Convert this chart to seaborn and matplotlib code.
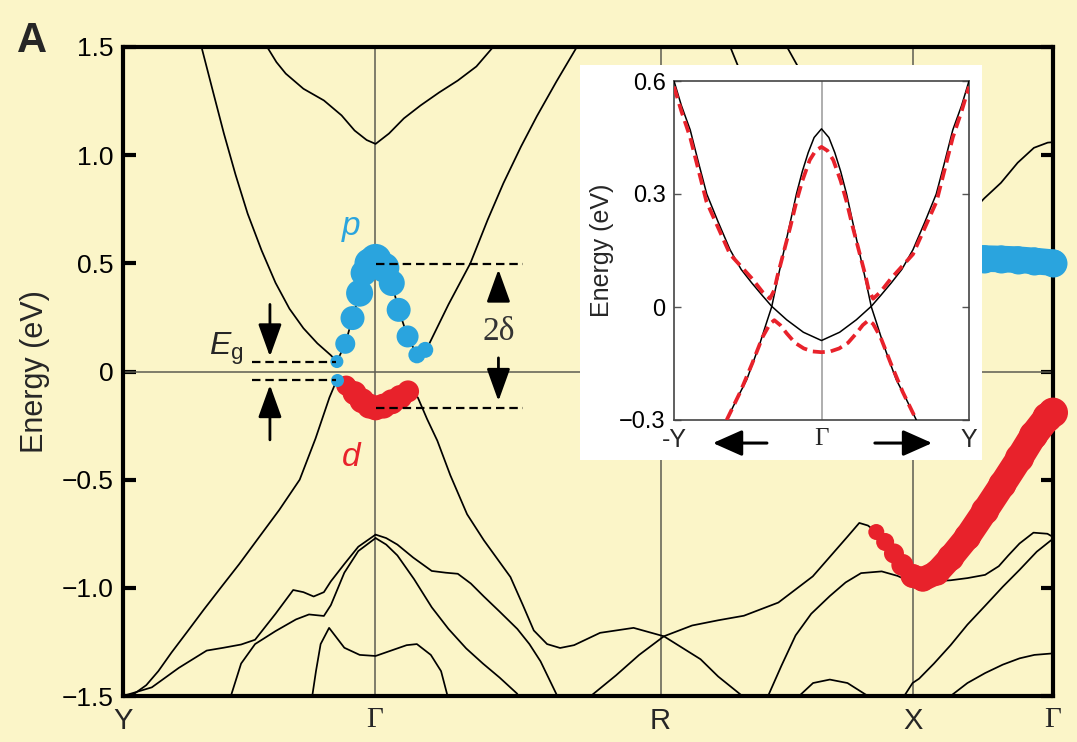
import numpy as np
import pandas as pd
import matplotlib
matplotlib.use("Agg")
import matplotlib.pyplot as plt
import seaborn as sns

# ---------------- data ----------------
# high-symmetry points along the k-path (fraction of path length)
k_nodes = [0.0, 0.271, 0.578, 0.850, 1.0]
k_labels = ["Y", "Γ", "R", "X", "Γ"]
y_ticks = [1.5, 1.0, 0.5, 0.0, -0.5, -1.0, -1.5]
y_ticklabels = ["1.5", "1.0", "0.5", "0", "−0.5", "−1.0", "−1.5"]

# lowest conduction band: left arm, p-character part, right arm
cb_left_k = [0.0844, 0.097, 0.1085, 0.121, 0.134, 0.149, 0.164, 0.179, 0.194, 0.209, 0.2235, 0.230]
cb_left_e = [1.50, 1.29, 1.10, 0.91, 0.73, 0.56, 0.41, 0.29, 0.20, 0.13, 0.075, 0.046]
p_k = [0.230, 0.239, 0.2468, 0.2544, 0.2587, 0.265, 0.2716, 0.281, 0.289, 0.2964, 0.306, 0.316, 0.325]
p_e = [0.046, 0.128, 0.247, 0.362, 0.455, 0.50, 0.516, 0.48, 0.409, 0.285, 0.162, 0.077, 0.10]
p_r = [6.5, 10, 12, 13.5, 13, 15, 16, 15, 13, 12, 11, 8.5, 8]
cb_right_k = [0.325, 0.3295, 0.35, 0.3735, 0.392, 0.409, 0.428, 0.445, 0.466, 0.488]
cb_right_e = [0.10, 0.13, 0.31, 0.50, 0.70, 0.87, 1.04, 1.18, 1.34, 1.50]

# second conduction band (minimum ~1.05 eV at Gamma)
cb2_k = [0.155, 0.165, 0.175, 0.194, 0.216, 0.235, 0.249, 0.262, 0.2716, 0.286, 0.302, 0.320, 0.340, 0.360, 0.380, 0.398]
cb2_e = [1.50, 1.43, 1.377, 1.307, 1.253, 1.184, 1.114, 1.07, 1.052, 1.10, 1.17, 1.23, 1.29, 1.345, 1.41, 1.50]

# top valence band: left arm, d-character part, right arm to R and beyond
vb_left_k = [0.0, 0.012, 0.025, 0.038, 0.052, 0.0696, 0.087, 0.105, 0.125, 0.1456, 0.168, 0.190, 0.207, 0.222, 0.230]
vb_left_e = [-1.5, -1.49, -1.45, -1.385, -1.30, -1.2, -1.10, -1.0, -0.89, -0.77, -0.64, -0.50, -0.31, -0.12, -0.038]
d_k = [0.230, 0.240, 0.249, 0.257, 0.265, 0.2716, 0.280, 0.289, 0.298, 0.3065]
d_e = [-0.038, -0.065, -0.10, -0.135, -0.16, -0.168, -0.16, -0.14, -0.118, -0.092]
d_r = [6.5, 10, 12, 12.5, 12.5, 12.5, 12.5, 12.5, 12, 11]
vb_right_k = [0.3065, 0.317, 0.327, 0.338, 0.352, 0.370, 0.388, 0.4166, 0.430, 0.4417, 0.456, 0.470, 0.485, 0.513, 0.549, 0.5816, 0.621, 0.640, 0.666]
vb_right_e = [-0.092, -0.12, -0.22, -0.32, -0.48, -0.66, -0.78, -0.95, -1.08, -1.197, -1.26, -1.278, -1.265, -1.208, -1.185, -1.224, -1.33, -1.41, -1.5]

# lower valence bands, Y - Gamma
u_k = [0.0, 0.031, 0.060, 0.090, 0.108, 0.127, 0.142, 0.164, 0.183, 0.194, 0.205, 0.216, 0.2235, 0.238, 0.253, 0.2716]
u_e = [-1.5, -1.46, -1.37, -1.29, -1.277, -1.262, -1.24, -1.12, -1.01, -1.02, -1.04, -1.02, -0.97, -0.89, -0.81, -0.754]
l_k = [0.116, 0.127, 0.142, 0.164, 0.186, 0.200, 0.216, 0.2235, 0.238, 0.253, 0.2716]
l_e = [-1.5, -1.35, -1.26, -1.20, -1.146, -1.123, -1.13, -1.08, -0.93, -0.83, -0.77]
dd_k = [0.2035, 0.2075, 0.2125, 0.2216, 0.238, 0.2545, 0.2716, 0.2883, 0.305, 0.316, 0.331, 0.342, 0.349]
dd_e = [-1.5, -1.385, -1.26, -1.185, -1.277, -1.31, -1.315, -1.29, -1.265, -1.26, -1.31, -1.385, -1.5]

# lower valence bands, Gamma - R
b_k = [0.2716, 0.283, 0.295, 0.312, 0.332, 0.347, 0.360, 0.374, 0.388, 0.405, 0.424, 0.437, 0.449, 0.458, 0.467]
b_e = [-0.754, -0.77, -0.80, -0.86, -0.922, -0.93, -0.935, -0.98, -1.04, -1.11, -1.19, -1.26, -1.34, -1.42, -1.5]
c_k = [0.2716, 0.283, 0.295, 0.313, 0.332, 0.350, 0.369, 0.387, 0.405, 0.424]
c_e = [-0.77, -0.80, -0.85, -0.96, -1.09, -1.19, -1.28, -1.35, -1.415, -1.49]

# R - X - Gamma bands
c2_k = [0.503, 0.53, 0.555, 0.5816, 0.612, 0.640, 0.6676, 0.7047, 0.7417, 0.7787, 0.7917, 0.801, 0.810]
c2_e = [-1.5, -1.405, -1.31, -1.224, -1.174, -1.15, -1.129, -1.068, -0.947, -0.765, -0.70, -0.712, -0.742]
rr_k = [0.810, 0.8195, 0.829, 0.838, 0.849, 0.860, 0.875, 0.890, 0.908, 0.927, 0.9455, 0.964, 0.979, 0.994, 1.0]
rr_e = [-0.742, -0.788, -0.841, -0.894, -0.945, -0.96, -0.93, -0.86, -0.765, -0.644, -0.523, -0.40, -0.295, -0.212, -0.19]
rr_r = [8, 9, 10, 11, 12, 12.5, 13, 13.5, 13.5, 14, 14, 14.5, 14.5, 15, 15]
c3_k = [0.6936, 0.708, 0.7232, 0.740, 0.760, 0.777, 0.7936, 0.8158, 0.833, 0.849, 0.871, 0.890, 0.908, 0.927, 0.9417, 0.952, 0.964, 0.979, 0.994, 1.0]
c3_e = [-1.5, -1.36, -1.22, -1.12, -1.038, -0.975, -0.932, -0.924, -0.945, -0.977, -0.97, -0.965, -0.955, -0.94, -0.90, -0.85, -0.795, -0.745, -0.75, -0.765]
c4_k = [0.840, 0.849, 0.856, 0.872, 0.8899, 0.908, 0.927, 0.946, 0.964, 0.9825, 1.0]
c4_e = [-1.5, -1.44, -1.42, -1.35, -1.265, -1.17, -1.083, -0.995, -0.917, -0.833, -0.773]
c5_k = [0.727, 0.742, 0.760, 0.779, 0.801]
c5_e = [-1.5, -1.44, -1.424, -1.44, -1.5]
c6_k = [0.8899, 0.908, 0.927, 0.946, 0.964, 0.980, 1.0]
c6_e = [-1.5, -1.44, -1.394, -1.355, -1.326, -1.31, -1.303]
t1_k = [0.653, 0.661, 0.675, 0.690]
t1_e = [1.5, 1.415, 1.30, 1.20]
t2_k = [0.714, 0.725, 0.740, 0.760]
t2_e = [1.5, 1.415, 1.30, 1.18]
ur_k = [0.90, 0.926, 0.944, 0.962, 0.9795, 0.9943, 1.0]
ur_e = [0.68, 0.80, 0.872, 0.965, 1.034, 1.058, 1.06]
br_k = [0.905, 0.926, 0.944, 0.962, 0.980, 1.0]
br_e = [0.525, 0.522, 0.520, 0.517, 0.511, 0.503]
br_r = [14, 14, 14, 14, 14, 14]

# annotation levels
eg_levels = [0.046, -0.040]
eg_span = [0.1385, 0.2285]
delta_levels = [0.495, -0.17]
delta_span = [0.2716, 0.4306]

# inset: model bands (x from -Y to Y)
ins_yticks = [-0.3, 0.0, 0.3, 0.6]
ins_yticklabels = ["−0.3", "0", "0.3", "0.6"]
ins_xlabels = ["-Y", "Γ", "Y"]
ins_para_x = [-1.0, -0.95, -0.89, -0.835, -0.778, -0.70, -0.62, -0.545, -0.473, -0.40, -0.338, -0.236, -0.123, 0.0,
              0.123, 0.236, 0.338, 0.40, 0.473, 0.545, 0.62, 0.70, 0.778, 0.835, 0.89, 0.95, 1.0]
ins_para_e = [0.60, 0.535, 0.47, 0.385, 0.30, 0.225, 0.152, 0.10, 0.064, 0.03, 0.002, -0.034, -0.067, -0.089,
              -0.067, -0.034, 0.002, 0.03, 0.064, 0.10, 0.152, 0.225, 0.30, 0.385, 0.47, 0.535, 0.60]
ins_lam_x = [-0.643, -0.575, -0.507, -0.46, -0.417, -0.378, -0.338, -0.30, -0.26, -0.213, -0.17, -0.13, -0.09, -0.05, 0.0,
             0.05, 0.09, 0.13, 0.17, 0.213, 0.26, 0.30, 0.338, 0.378, 0.417, 0.46, 0.507, 0.575, 0.643]
ins_lam_e = [-0.30, -0.245, -0.193, -0.143, -0.096, -0.048, 0.0, 0.07, 0.14, 0.223, 0.30, 0.36, 0.41, 0.45, 0.473,
             0.45, 0.41, 0.36, 0.30, 0.223, 0.14, 0.07, 0.0, -0.048, -0.096, -0.143, -0.193, -0.245, -0.30]
ins_red_up_x = [-1.0, -0.95, -0.89, -0.78, -0.62, -0.47, -0.40, -0.35, -0.32, -0.30, -0.26, -0.21, -0.17, -0.13, -0.08, -0.04, 0.0,
                0.04, 0.08, 0.13, 0.17, 0.21, 0.26, 0.30, 0.32, 0.35, 0.40, 0.47, 0.62, 0.78, 0.89, 0.95, 1.0]
ins_red_up_e = [0.585, 0.52, 0.45, 0.28, 0.14, 0.075, 0.04, 0.022, 0.045, 0.08, 0.14, 0.215, 0.28, 0.335, 0.39, 0.415, 0.425,
                0.415, 0.39, 0.335, 0.28, 0.215, 0.14, 0.08, 0.045, 0.022, 0.04, 0.075, 0.14, 0.28, 0.45, 0.52, 0.585]
ins_red_lo_x = [-0.643, -0.55, -0.47, -0.40, -0.35, -0.32, -0.28, -0.236, -0.18, -0.12, -0.06, 0.0,
                0.06, 0.12, 0.18, 0.236, 0.28, 0.32, 0.35, 0.40, 0.47, 0.55, 0.643]
ins_red_lo_e = [-0.30, -0.225, -0.15, -0.08, -0.045, -0.035, -0.048, -0.07, -0.095, -0.11, -0.118, -0.12,
                -0.118, -0.11, -0.095, -0.07, -0.048, -0.035, -0.045, -0.08, -0.15, -0.225, -0.30]

# ---------------- style ----------------
BG = "#FBF5C8"
BLUE = "#2AA4DE"
RED = "#E8222B"
GRID = "#5c5c50"

sns.set_theme(style="white")
plt.rcParams["font.family"] = ["Liberation Sans", "DejaVu Sans"]
plt.rcParams["mathtext.fontset"] = "custom"
plt.rcParams["mathtext.rm"] = "Liberation Sans"
plt.rcParams["mathtext.it"] = "Liberation Sans:italic"
plt.rcParams["axes.unicode_minus"] = True

W, H = 1077, 742
fig = plt.figure(figsize=(W / 100, H / 100), dpi=100, facecolor=BG)
ax = fig.add_axes([123 / W, 1 - 696 / H, 930 / W, 649 / H])
ax.set_facecolor(BG)


def area(r):
    return (1.44 * r) ** 2


def band(axis, k, e, color="black", lw=1.25, z=2, **kw):
    sns.lineplot(x=k, y=e, sort=False, estimator=None, color=color, lw=lw, ax=axis, zorder=z, **kw)


def dots(k, e, r, color, z=3):
    s = [area(v) for v in r]
    df = pd.DataFrame({"k": k, "e": e, "s": s})
    if min(s) == max(s):
        sns.scatterplot(data=df, x="k", y="e", s=s[0], color=color, linewidth=0,
                        legend=False, ax=ax, zorder=z, clip_on=False)
    else:
        sns.scatterplot(data=df, x="k", y="e", size="s", sizes=(min(s), max(s)),
                        size_norm=(min(s), max(s)), color=color, linewidth=0,
                        legend=False, ax=ax, zorder=z, clip_on=False)


def thick(k, e, r, color, z=3, f=0.95):
    for i in range(len(k) - 1):
        w = 0.72 * (r[i] + r[i + 1]) * f
        ax.plot(k[i:i + 2], e[i:i + 2], color=color, lw=w, solid_capstyle="round",
                zorder=z, clip_on=False)


# grid lines
ax.axhline(0, color=GRID, lw=1.1, zorder=1)
for kk in k_nodes[1:-1]:
    ax.axvline(kk, color=GRID, lw=1.1, zorder=1)

# black bands
band(ax, cb_left_k + p_k + cb_right_k, cb_left_e + p_e + cb_right_e)
band(ax, vb_left_k + d_k + vb_right_k, vb_left_e + d_e + vb_right_e)
for bk, be in [(cb2_k, cb2_e), (u_k, u_e), (l_k, l_e), (dd_k, dd_e), (b_k, b_e), (c_k, c_e),
               (c2_k + rr_k, c2_e + rr_e), (c3_k, c3_e), (c4_k, c4_e), (c5_k, c5_e), (c6_k, c6_e),
               (t1_k, t1_e), (t2_k, t2_e), (ur_k, ur_e), (br_k, br_e)]:
    band(ax, bk, be)

# orbital-character dots
dots(p_k, p_e, p_r, BLUE)
dots(d_k[1:], d_e[1:], d_r[1:], RED)
thick(d_k[1:], d_e[1:], d_r[1:], RED, f=0.85)
dots(d_k[:1], d_e[:1], d_r[:1], BLUE)
dots(rr_k, rr_e, rr_r, RED)
thick(rr_k[4:], rr_e[4:], rr_r[4:], RED)
dots(br_k, br_e, br_r, BLUE)
thick(br_k, br_e, br_r, BLUE)

# dashed guide lines
dash = (0, (3.8, 2.2))
for lev in eg_levels:
    ax.plot(eg_span, [lev, lev], color="black", lw=1.6, ls=dash, zorder=5)
for lev in delta_levels:
    ax.plot(delta_span, [lev, lev], color="black", lw=1.6, ls=dash, zorder=5)

arrow_style = "-|>,head_length=1.0,head_width=0.36"


def arrow(x, y0, y1):
    ax.annotate("", xy=(x, y1), xytext=(x, y0),
                arrowprops=dict(arrowstyle=arrow_style, color="black", lw=2.0,
                                mutation_scale=20, shrinkA=0, shrinkB=0), zorder=6)


arrow(0.158, 0.31, 0.069)
arrow(0.158, -0.316, -0.062)
arrow(0.4037, 0.348, 0.472)
arrow(0.4037, 0.063, -0.137)

ax.text(0.130, 0.076, r"$E_{\mathrm{g}}$", fontsize=23, ha="right", va="baseline", zorder=6)
ax.text(0.4037, 0.185, "2δ", fontsize=24, ha="center", va="center", color="#333333",
        family=["Liberation Serif", "DejaVu Serif"], zorder=6)
ax.text(0.2455, 0.63, "p", fontsize=24, ha="center", va="baseline", color=BLUE, style="italic", zorder=6)
ax.text(0.2455, -0.435, "d", fontsize=24, ha="center", va="baseline", color=RED, style="italic", zorder=6)

# axes decoration
ax.set_xlim(0, 1)
ax.set_ylim(-1.5, 1.5)
ax.set_xticks(k_nodes)
ax.set_xticklabels(k_labels)
ax.set_yticks(y_ticks)
ax.set_yticklabels(y_ticklabels)
ax.tick_params(axis="y", direction="in", length=9, width=3, left=True, right=True,
               labelsize=19, pad=7, colors="black")
ax.tick_params(axis="x", length=0, labelsize=21, pad=8)
for lbl in ax.get_xticklabels():
    if lbl.get_text() == "Γ":
        lbl.set_fontfamily(["Liberation Serif", "DejaVu Serif"])
for sp in ax.spines.values():
    sp.set_linewidth(3)
    sp.set_color("black")
ax.set_xlabel("")
ax.set_ylabel("Energy (eV)", fontsize=22)
ax.yaxis.set_label_coords(-0.079, 0.5)

fig.text(17 / W, 1 - 52 / H, "A", fontsize=30, fontweight="heavy", ha="left", va="baseline")

# ---------------- inset ----------------
box = fig.add_axes([580 / W, 1 - 460 / H, 402 / W, 395 / H])
box.set_facecolor("white")
box.set_xticks([])
box.set_yticks([])
for sp in box.spines.values():
    sp.set_visible(False)

ins = fig.add_axes([674 / W, 1 - 420 / H, 295 / W, 339 / H])
ins.set_facecolor("white")
ins.set_xlim(-1, 1)
ins.set_ylim(-0.3, 0.6)
ins.axvline(0, color="#999999", lw=1.1, zorder=1)
band(ins, ins_para_x, ins_para_e, lw=1.1, z=3)
band(ins, ins_lam_x, ins_lam_e, lw=1.1, z=3)
band(ins, ins_red_up_x, ins_red_up_e, color=RED, lw=2.7, z=4, linestyle=(0, (3.2, 1.6)))
band(ins, ins_red_lo_x, ins_red_lo_e, color=RED, lw=2.7, z=4, linestyle=(0, (3.2, 1.6)))
ins.set_yticks(ins_yticks)
ins.set_yticklabels(ins_yticklabels)
ins.set_xticks([-1, 0, 1])
ins.set_xticklabels(ins_xlabels)
ins.tick_params(axis="y", direction="in", length=5, width=1, left=True, right=True,
                labelsize=17, pad=6, colors="#555555", labelcolor="black")
ins.tick_params(axis="x", length=0, labelsize=18, pad=6)
for lbl in ins.get_xticklabels():
    if lbl.get_text() == "Γ":
        lbl.set_fontfamily(["Liberation Serif", "DejaVu Serif"])
for sp in ins.spines.values():
    sp.set_linewidth(1.2)
    sp.set_color("#444444")
ins.set_xlabel("")
ins.set_ylabel("Energy (eV)", fontsize=18)
ins.yaxis.set_label_coords(-0.205, 0.5)

ins_arrow = "-|>,head_length=0.9,head_width=0.4"
for x0, x1 in [(0.315, 0.132), (0.681, 0.875)]:
    ins.annotate("", xy=(x1, -0.068), xytext=(x0, -0.068), xycoords="axes fraction",
                 textcoords="axes fraction",
                 arrowprops=dict(arrowstyle=ins_arrow, color="black", lw=2.2,
                                 mutation_scale=20, shrinkA=0, shrinkB=0),
                 annotation_clip=False)

fig.savefig("out.png", dpi=100, facecolor=BG)
